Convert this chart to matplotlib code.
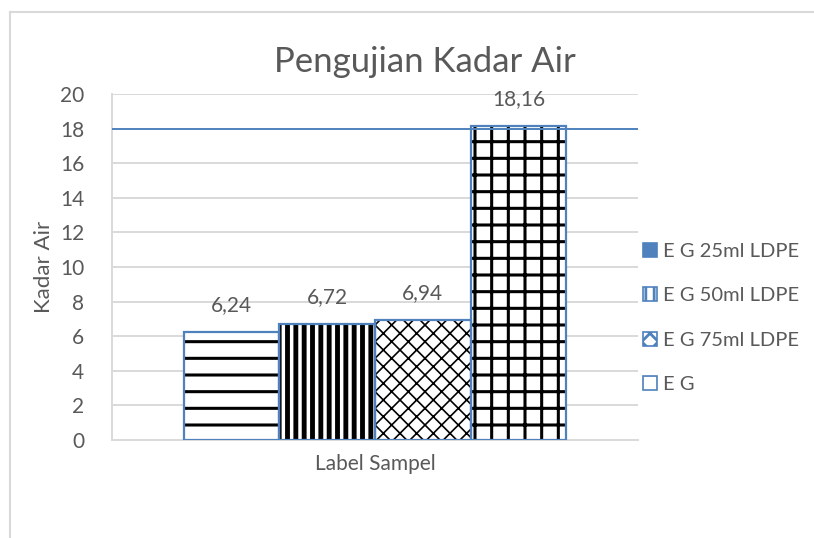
import matplotlib

matplotlib.use("Agg")
import matplotlib.pyplot as plt
from matplotlib.lines import Line2D
from matplotlib.patches import Patch

plt.rcParams["font.family"] = ["Lato", "DejaVu Sans"]
plt.rcParams["hatch.linewidth"] = 2.0

series = ["E G 25ml LDPE", "E G 50ml LDPE", "E G 75ml LDPE", "E G"]
values = [6.24, 6.72, 6.94, 18.16]
labels = ["6,24", "6,72", "6,94", "18,16"]
hatches = ["-", "||", "//\\\\", "+"]
hatch_lw = [2.2, 3.5, 1.2, 2.2]
yticks = list(range(0, 21, 2))

W, H = 814, 538
EDGE = "#4F81BD"
GRID = "#D9D9D9"
TXT = "#595959"

fig = plt.figure(figsize=(W / 100, H / 100), dpi=100)
ax = fig.add_axes([112 / W, 1 - 440 / H, (638 - 112) / W, (440 - 94) / H])

bw = 0.182
x0 = -1.5 * bw
for i, (v, lab, h, hl) in enumerate(zip(values, labels, hatches, hatch_lw)):
    x = x0 + i * bw
    b = ax.bar(x, v, width=bw, facecolor="white", edgecolor="black", hatch=h,
               linewidth=0, zorder=3)
    if hasattr(b[0], "set_hatch_linewidth"):
        b[0].set_hatch_linewidth(hl)
    ax.bar(x, v, width=bw, facecolor="none", edgecolor=EDGE, linewidth=1.6, zorder=4)
    ax.annotate(lab, (x, v), xytext=(0, 12), textcoords="offset points",
                ha="center", va="bottom", fontsize=15, color=TXT)

ax.set_xlim(-0.5, 0.5)
ax.set_ylim(0, 20)
ax.set_yticks(yticks)
ax.set_yticklabels([str(t) for t in yticks], fontsize=15, color=TXT)
ax.set_xticks([])
ax.tick_params(axis="y", length=0, pad=20)
for t in yticks[1:]:
    ax.axhline(t, color=EDGE if t == 18 else GRID, lw=1.4, zorder=5 if t == 18 else 1)
for s in ["top", "right"]:
    ax.spines[s].set_visible(False)
for s in ["left", "bottom"]:
    ax.spines[s].set_color(GRID)
    ax.spines[s].set_linewidth(1.4)

ax.set_ylabel("Kadar Air", fontsize=16, color=TXT, labelpad=4)
ax.set_xlabel("Label Sampel", fontsize=15, color=TXT, labelpad=10)
fig.text(425 / W, 1 - 62 / H, "Pengujian Kadar Air", ha="center", va="center",
         fontsize=25, color=TXT)

handles = [Patch(facecolor=EDGE, edgecolor=EDGE)]
for h in hatches[1:]:
    handles.append(Patch(facecolor="white", edgecolor="black", hatch=h, linewidth=0))
leg = fig.legend(handles, series, loc="upper left", bbox_to_anchor=(643 / W, 1 - 243 / H),
                 frameon=False, fontsize=14.5, labelcolor=TXT, handlelength=0.7,
                 handleheight=0.7, handletextpad=0.3, labelspacing=1.35,
                 borderpad=0, borderaxespad=0)
for p in leg.get_patches():
    p.set_edgecolor(EDGE)
    p.set_linewidth(1.2)

fig.add_artist(Line2D([10 / W, 1], [1 - 12 / H] * 2, color=GRID, lw=1.5))
fig.add_artist(Line2D([10 / W] * 2, [0, 1 - 12 / H], color=GRID, lw=1.5))

fig.savefig("out.png", dpi=100, facecolor="white")
